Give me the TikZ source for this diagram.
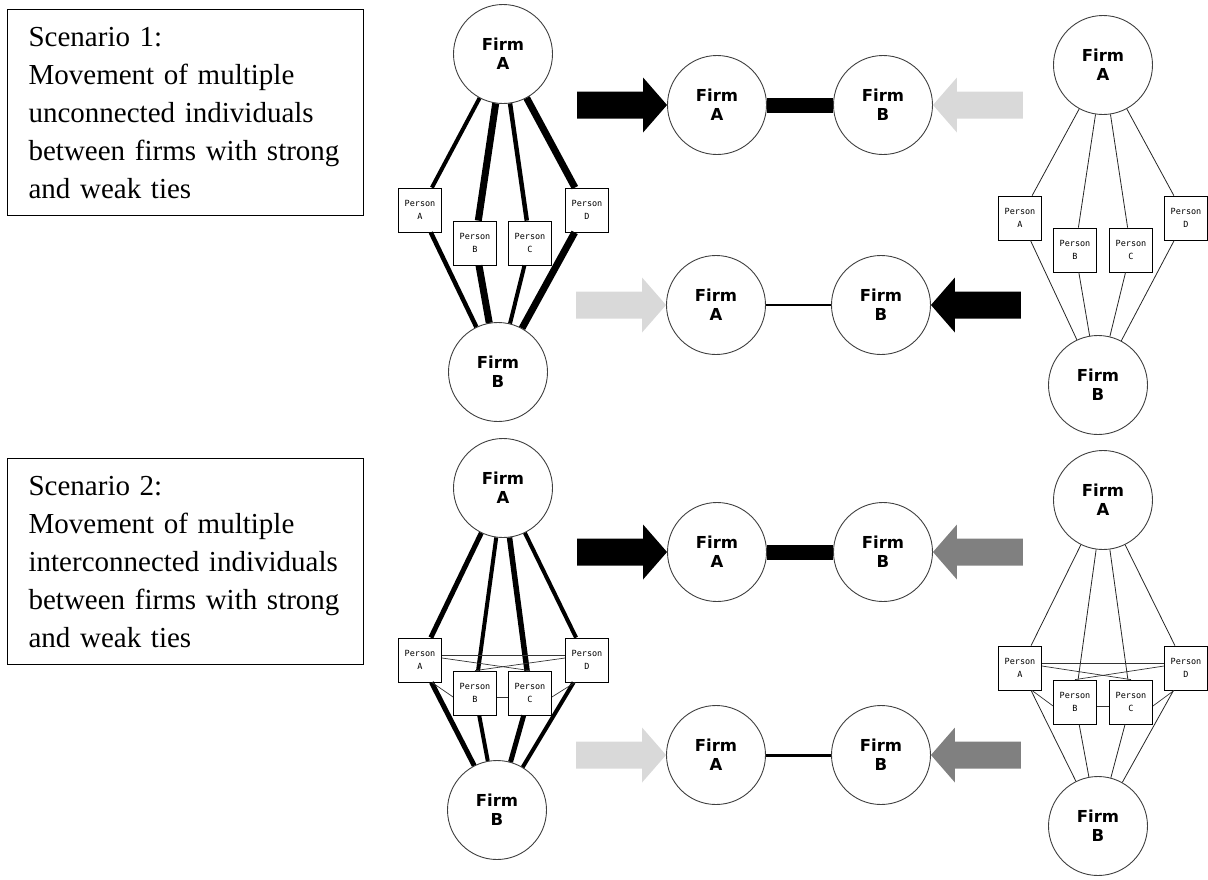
\documentclass[tikz,border=0pt]{standalone}
\usepackage{fontspec}
\setmainfont{Liberation Serif}
\newfontfamily\firmfont{DejaVu Sans}
\newfontfamily\persfont{DejaVu Sans Mono}
\definecolor{lightarrow}{HTML}{D9D9D9}
\definecolor{midarrow}{HTML}{808080}
\begin{document}
\begin{tikzpicture}[x=1pt,y=-1pt]
    \tikzset{
        firm/.style={draw=black!75, line width=0.9pt, circle, minimum size=99pt, inner sep=0pt, align=center, fill=white,
            font=\firmfont\bfseries\fontsize{16.5}{19}\selectfont},
        person/.style={draw, line width=0.8pt, rectangle, minimum width=43pt, minimum height=44pt, inner sep=0pt,
            align=center, fill=white, font=\persfont\fontsize{8.5}{12.5}\selectfont},
        scen/.style={draw, line width=1.2pt, anchor=north west, minimum height=206pt, inner xsep=21pt,
            align=left, text width=314pt, font=\fontsize{29}{38}\selectfont},
        tie/.style={line width=#1pt, black},
        weak/.style={line width=0.8pt, black!85},
        link/.style={line width=0.7pt, black!80}
    }
    \useasboundingbox (0,0) rectangle (1208,879);

    % scenario captions
    \draw node[scen] (s1) at (7,9) {Scenario 1:\\Movement of multiple\\unconnected individuals\\between firms with strong\\and weak ties};
    \draw node[scen] (s2) at (7,458) {Scenario 2:\\Movement of multiple\\interconnected individuals\\between firms with strong\\and weak ties};

    % scenario 1, strong ties
    \draw node[firm] (a1) at (503,54) {Firm\\A};
    \draw node[firm] (b1) at (498,372) {Firm\\B};
    \draw node[person] (pa1) at (420,210) {Person\\A};
    \draw node[person] (pb1) at (475,243) {Person\\B};
    \draw node[person] (pc1) at (530,243) {Person\\C};
    \draw node[person] (pd1) at (587,210) {Person\\D};
    \foreach \x/\y/\w in {%
        a1/pa1/4, a1/pb1/7, a1/pc1/4.5, a1/pd1/7, pa1/b1/4.5, pb1/b1/7, pc1/b1/4, pd1/b1/7%
    }{
    \draw (\x) edge[tie=\w] (\y);
    }

    % scenario 1, weak ties
    \draw node[firm] (ra1) at (1103,65) {Firm\\A};
    \draw node[firm] (rb1) at (1098,385) {Firm\\B};
    \draw node[person] (rpa1) at (1020,218) {Person\\A};
    \draw node[person] (rpb1) at (1075,250) {Person\\B};
    \draw node[person] (rpc1) at (1131,250) {Person\\C};
    \draw node[person] (rpd1) at (1186,218) {Person\\D};
    \foreach \x/\y in {%
        ra1/rpa1, ra1/rpb1, ra1/rpc1, ra1/rpd1, rpa1/rb1, rpb1/rb1, rpc1/rb1, rpd1/rb1%
    }{
    \draw (\x) edge[weak] (\y);
    }

    % scenario 1, outcomes
    \draw node[firm] (ma1) at (717,105) {Firm\\A};
    \draw node[firm] (mb1) at (883,105) {Firm\\B};
    \draw node[firm] (na1) at (716,305) {Firm\\A};
    \draw node[firm] (nb1) at (881,305) {Firm\\B};
    \draw[tie=15] (ma1) -- (mb1);
    \draw[tie=2.5] (na1) -- (nb1);

    % scenario 2, strong ties
    \draw node[firm] (a2) at (503,488) {Firm\\A};
    \draw node[firm] (b2) at (497,810) {Firm\\B};
    \draw node[person] (pa2) at (420,660) {Person\\A};
    \draw node[person] (pb2) at (475,693) {Person\\B};
    \draw node[person] (pc2) at (530,693) {Person\\C};
    \draw node[person] (pd2) at (587,660) {Person\\D};
    \foreach \x/\y/\w in {%
        a2/pa2/5, a2/pb2/4, a2/pc2/5.5, a2/pd2/4, pa2/b2/5, pb2/b2/4, pc2/b2/5, pd2/b2/4%
    }{
    \draw (\x) edge[tie=\w] (\y);
    }
    \draw[link] ([yshift=5pt]pa2.east) -- ([yshift=5pt]pd2.west);
    \draw[link] ([yshift=2pt]pa2.east) -- (pc2.north);
    \draw[link] ([yshift=2pt]pd2.west) -- (pb2.north);
    \draw[link] ([xshift=-10pt]pa2.south east) -- ([yshift=-4pt]pb2.west);
    \draw[link] ([xshift=10pt]pd2.south west) -- ([yshift=-4pt]pc2.east);
    \draw[link] ([yshift=-4pt]pb2.east) -- ([yshift=-4pt]pc2.west);

    % scenario 2, weak ties
    \draw node[firm] (ra2) at (1103,500) {Firm\\A};
    \draw node[firm] (rb2) at (1098,826) {Firm\\B};
    \draw node[person] (rpa2) at (1020,668) {Person\\A};
    \draw node[person] (rpb2) at (1075,702) {Person\\B};
    \draw node[person] (rpc2) at (1131,702) {Person\\C};
    \draw node[person] (rpd2) at (1186,668) {Person\\D};
    \foreach \x/\y in {%
        ra2/rpa2, ra2/rpb2, ra2/rpc2, ra2/rpd2, rpa2/rb2, rpb2/rb2, rpc2/rb2, rpd2/rb2%
    }{
    \draw (\x) edge[weak] (\y);
    }
    \draw[link] ([yshift=5pt]rpa2.east) -- ([yshift=5pt]rpd2.west);
    \draw[link] ([yshift=2pt]rpa2.east) -- (rpc2.north);
    \draw[link] ([yshift=2pt]rpd2.west) -- (rpb2.north);
    \draw[link] ([xshift=-10pt]rpa2.south east) -- ([yshift=-4pt]rpb2.west);
    \draw[link] ([xshift=10pt]rpd2.south west) -- ([yshift=-4pt]rpc2.east);
    \draw[link] ([yshift=-4pt]rpb2.east) -- ([yshift=-4pt]rpc2.west);

    % scenario 2, outcomes
    \draw node[firm] (ma2) at (717,552) {Firm\\A};
    \draw node[firm] (mb2) at (883,552) {Firm\\B};
    \draw node[firm] (na2) at (716,755) {Firm\\A};
    \draw node[firm] (nb2) at (881,755) {Firm\\B};
    \draw[tie=15] (ma2) -- (mb2);
    \draw[tie=3] (na2) -- (nb2);

    % block arrows into the firms
    \foreach \n/\c in {ma1/black, na1/lightarrow, ma2/black, na2/lightarrow}{
    \fill[\c] (\n.west) -- ++(-24,-27.5) -- ++(0,14) -- ++(-66,0) -- ++(0,27) -- ++(66,0) -- ++(0,14) -- cycle;
    }
    \foreach \n/\c in {mb1/lightarrow, nb1/black, mb2/midarrow, nb2/midarrow}{
    \fill[\c] (\n.east) -- ++(24,-27.5) -- ++(0,14) -- ++(66,0) -- ++(0,27) -- ++(-66,0) -- ++(0,14) -- cycle;
    }
\end{tikzpicture}
\end{document}
